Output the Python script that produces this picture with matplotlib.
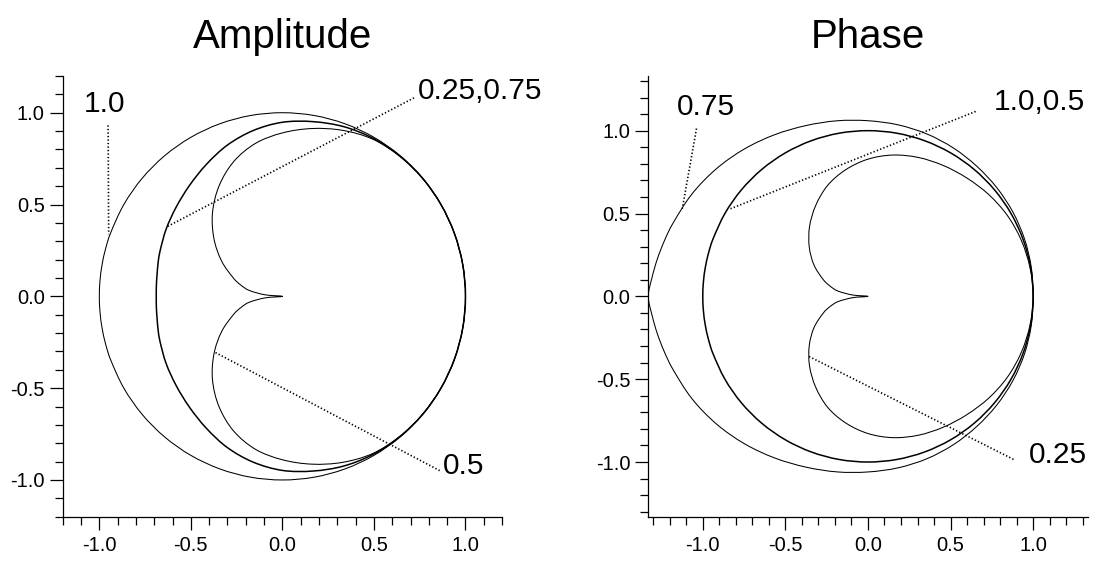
import numpy as np
import matplotlib
matplotlib.use("Agg")
import matplotlib.pyplot as plt
from matplotlib.path import Path
from matplotlib.patches import PathPatch
from matplotlib.ticker import MultipleLocator, FormatStrFormatter

plt.rcParams['font.family'] = ['Liberation Sans', 'DejaVu Sans']
plt.rcParams['axes.unicode_minus'] = False

# polar angle (deg) of the points (upper half only,
# every curve is mirror symmetric about y = 0)
angles = [0, 10, 20, 30, 40, 50, 60, 70, 80, 90, 100, 110, 120, 130,
          140, 150, 160, 165, 170, 175, 180]

# Amplitude panel, radius at each angle
amp_r_1 = [1.0] * 21
amp_r_025_075 = [1.0, 1.0, 1.0, 1.0, 1.0, 0.998, 0.993, 0.983, 0.966, 0.948,
                 0.917, 0.877, 0.830, 0.789, 0.757, 0.733, 0.712, 0.703,
                 0.695, 0.691, 0.689]
amp_r_05 = [1.0, 1.0, 1.0, 1.0, 0.999, 0.996, 0.988, 0.962, 0.928, 0.890,
            0.846, 0.780, 0.693, 0.594, 0.488, 0.383, 0.282, 0.234, 0.183,
            0.094, 0.0]

# Phase panel
ph_r_075 = [1.0, 1.004, 1.009, 1.014, 1.019, 1.025, 1.034, 1.043, 1.051,
            1.060, 1.076, 1.097, 1.127, 1.162, 1.198, 1.232, 1.262, 1.278,
            1.295, 1.312, 1.330]
ph_r_1_05 = [1.0] * 21
ph_r_025 = [1.0, 0.996, 0.988, 0.975, 0.955, 0.932, 0.912, 0.892, 0.866,
            0.828, 0.776, 0.713, 0.633, 0.550, 0.464, 0.377, 0.285, 0.237,
            0.185, 0.094, 0.0]

tick_vals = [-1.0, -0.5, 0.0, 0.5, 1.0]

amp_labels = ["1.0", "0.25,0.75", "0.5"]
ph_labels = ["0.75", "1.0,0.5", "0.25"]


def curve_path(r):
    # closed outline through the read points, drawn as smooth bezier segments
    a = np.asarray(angles, dtype=float)
    t = np.concatenate([a, 360 - a[-2:0:-1]])
    r = np.asarray(r)
    rr = np.concatenate([r, r[-2:0:-1]])
    th = np.radians(t)
    pts = np.column_stack([rr * np.cos(th), rr * np.sin(th)])
    n = len(pts)
    tan = []
    for i in range(n):
        dt = (t[(i + 1) % n] - t[i - 1]) % 360
        tan.append((pts[(i + 1) % n] - pts[i - 1]) / dt)
    verts, codes = [pts[0]], [Path.MOVETO]
    for i in range(n):
        j = (i + 1) % n
        dt = (t[j] - t[i]) % 360
        verts += [pts[i] + tan[i] * dt / 3, pts[j] - tan[j] * dt / 3, pts[j]]
        codes += [Path.CURVE4] * 3
    return Path(verts, codes)


panels = [
    dict(title="Amplitude", lim=1.2, left=0.0568,
         curves=[(amp_r_1, 0.75), (amp_r_025_075, 1.1), (amp_r_05, 0.75)],
         labels=amp_labels,
         text_xy=[(-1.085, 1.006), (0.738, 1.077), (0.876, -0.966)],
         leaders=[((-0.952, 0.931), (-0.949, 0.338)),
                  ((0.719, 1.081), (-0.633, 0.378)),
                  ((0.859, -0.949), (-0.370, -0.304))]),
    dict(title="Phase", lim=1.33, left=0.5872,
         curves=[(ph_r_075, 0.75), (ph_r_1_05, 1.1), (ph_r_025, 0.75)],
         labels=ph_labels,
         text_xy=[(-1.155, 1.093), (0.760, 1.125), (0.976, -1.008)],
         leaders=[((-1.038, 1.013), (-1.124, 0.529)),
                  ((0.652, 1.116), (-0.832, 0.529)),
                  ((0.881, -0.984), (-0.357, -0.363))]),
]

fig = plt.figure(figsize=(11.04, 5.65), dpi=100)

for p in panels:
    ax = fig.add_axes([p["left"], 0.0855, 0.398, 0.780])
    for r, lw in p["curves"]:
        ax.add_patch(PathPatch(curve_path(r), fill=False, edgecolor="black",
                               lw=lw, joinstyle="round"))
    for lab, (tx, ty), (a, b) in zip(p["labels"], p["text_xy"], p["leaders"]):
        ax.plot([a[0], b[0]], [a[1], b[1]], color="black", lw=1.2,
                linestyle=(0, (0.8, 1.3)), dash_capstyle="butt")
        ax.text(tx, ty, lab, fontsize=21.5, ha="left", va="baseline")

    lim = p["lim"]
    ax.set_xlim(-lim, lim)
    ax.set_ylim(-lim, lim)
    ax.set_xticks(tick_vals)
    ax.set_yticks(tick_vals)
    ax.xaxis.set_minor_locator(MultipleLocator(0.1))
    ax.yaxis.set_minor_locator(MultipleLocator(0.1))
    ax.xaxis.set_major_formatter(FormatStrFormatter("%.1f"))
    ax.yaxis.set_major_formatter(FormatStrFormatter("%.1f"))
    for side in ("top", "right"):
        ax.spines[side].set_visible(False)
    for side in ("left", "bottom"):
        ax.spines[side].set_linewidth(0.9)
    ax.tick_params(which="major", direction="out", length=9.5, width=0.9,
                   labelsize=14.5)
    ax.tick_params(which="minor", direction="out", length=6, width=0.9)
    ax.tick_params(axis="x", which="major", pad=4.5)
    ax.tick_params(axis="y", which="major", pad=3.5)
    ax.set_title(p["title"], fontsize=29, pad=20)

fig.savefig("out.png", dpi=100)
